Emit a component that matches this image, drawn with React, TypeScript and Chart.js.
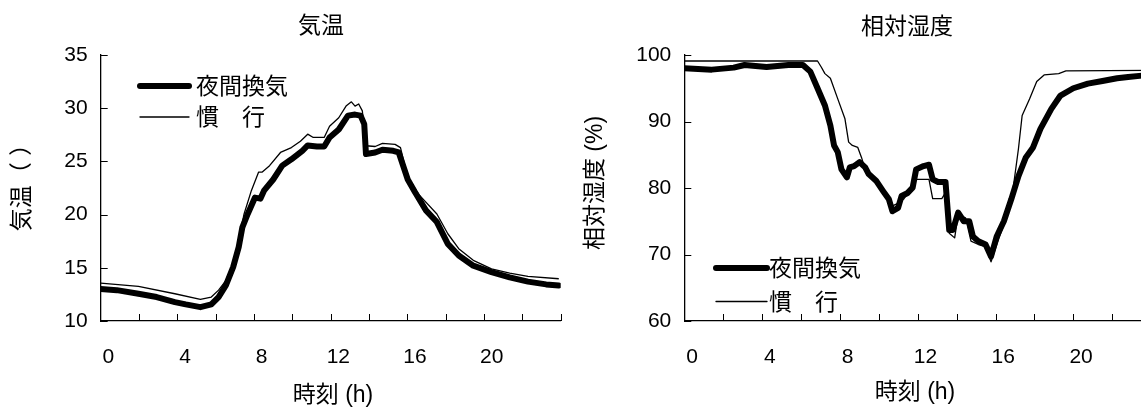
import React, { useEffect, useRef } from 'react';
import { Chart, registerables } from 'chart.js';

Chart.register(...registerables);

const FONT = '"Liberation Sans", Arial, "Noto Sans CJK JP", sans-serif';

// ---- axis ticks ----
const X_MIN = -0.4;
const X_MAX = 23.6;
const X_LABELS = [0, 4, 8, 12, 16, 20];
const X_MARKS = [1.6, 3.6, 5.6, 7.6, 9.6, 11.6, 13.6, 15.6, 17.6, 19.6, 21.6, 23.6];
const TEMP_TICKS = [10, 15, 20, 25, 30, 35];
const RH_TICKS = [60, 70, 80, 90, 100];
const SERIES_NAMES = ['夜間換気', '慣　行'];

// ---- 気温 ----
const TEMP_NIGHT_T = [-0.4, 0.44, 1.57, 2.52, 3.47, 4.04, 4.8, 5.37, 5.75, 6.13, 6.51, 6.8, 6.99, 7.27, 7.65, 7.93, 8.12, 8.6, 9.07, 9.55, 10.12, 10.4, 10.88, 11.26, 11.54, 12.02, 12.5, 12.87, 13.16, 13.35, 13.44, 13.92, 14.3, 14.86, 15.15, 15.62, 16.0, 16.57, 17.14, 17.71, 18.28, 19.04, 19.99, 20.94, 21.89, 22.84, 23.5];
const TEMP_NIGHT = [13.0, 12.9, 12.56, 12.25, 11.78, 11.56, 11.3, 11.56, 12.25, 13.34, 15.06, 16.94, 18.8, 20.06, 21.6, 21.5, 22.25, 23.3, 24.6, 25.2, 26.0, 26.5, 26.4, 26.4, 27.25, 28.0, 29.3, 29.4, 29.3, 28.5, 25.7, 25.84, 26.1, 26.0, 25.84, 23.3, 22.1, 20.4, 19.3, 17.25, 16.16, 15.2, 14.6, 14.1, 13.7, 13.44, 13.34];
const TEMP_CONV_T = [-0.4, 1.57, 3.47, 4.8, 5.37, 5.75, 6.13, 6.51, 6.8, 7.08, 7.46, 7.84, 8.03, 8.41, 8.98, 9.55, 10.02, 10.4, 10.69, 11.26, 11.54, 12.02, 12.4, 12.68, 12.87, 13.06, 13.25, 13.44, 13.92, 14.3, 14.96, 15.24, 15.62, 16.19, 17.14, 17.71, 18.28, 19.04, 19.99, 20.94, 21.89, 23.5];
const TEMP_CONV = [13.56, 13.25, 12.56, 12.03, 12.25, 12.9, 13.8, 15.4, 17.56, 20.06, 22.25, 24.0, 24.0, 24.6, 25.84, 26.3, 26.9, 27.56, 27.25, 27.25, 28.3, 29.1, 30.2, 30.6, 30.2, 30.4, 29.75, 26.47, 26.4, 26.7, 26.6, 26.3, 23.5, 21.9, 20.06, 18.2, 16.8, 15.7, 14.9, 14.5, 14.2, 13.97];

// ---- 相対湿度 ----
const RH_NIGHT_T = [-0.4, 1.01, 2.14, 2.7, 3.83, 4.95, 5.7, 6.08, 6.45, 6.83, 7.11, 7.3, 7.49, 7.68, 7.96, 8.11, 8.33, 8.61, 8.9, 9.08, 9.46, 9.83, 10.12, 10.3, 10.59, 10.77, 11.06, 11.34, 11.52, 11.9, 12.18, 12.37, 12.65, 13.03, 13.22, 13.41, 13.68, 13.97, 14.25, 14.44, 14.72, 15.09, 15.37, 15.66, 16.03, 16.41, 16.78, 17.16, 17.53, 17.91, 18.47, 18.94, 19.6, 20.35, 21.1, 21.85, 22.42, 23.13, 23.5];
const RH_NIGHT = [98.0, 97.8, 98.1, 98.5, 98.2, 98.5, 98.5, 97.5, 95.0, 92.4, 89.4, 86.4, 85.4, 82.8, 81.6, 83.1, 83.3, 83.9, 83.1, 82.1, 81.1, 79.5, 78.3, 76.5, 77.0, 78.8, 79.2, 80.05, 82.8, 83.3, 83.5, 81.3, 80.9, 80.9, 73.7, 73.7, 76.3, 75.0, 75.0, 72.7, 72.0, 71.5, 69.7, 72.7, 75.0, 78.3, 81.8, 84.6, 86.1, 88.9, 91.9, 93.9, 95.0, 95.7, 96.1, 96.5, 96.7, 96.9, 97.0];
const RH_CONV_T = [-0.4, 6.45, 6.64, 6.83, 7.11, 7.49, 7.86, 8.05, 8.24, 8.52, 8.71, 8.9, 9.08, 9.83, 10.3, 10.59, 10.87, 11.34, 11.52, 12.18, 12.37, 12.84, 13.03, 13.22, 13.5, 13.68, 14.06, 14.34, 14.72, 15.09, 15.37, 15.75, 16.13, 16.5, 16.78, 16.97, 17.35, 17.72, 18.1, 18.85, 19.22, 23.5];
const RH_CONV = [99.1, 99.1, 98.2, 97.2, 96.5, 93.4, 90.4, 86.9, 86.4, 86.1, 84.6, 82.8, 82.1, 79.8, 77.3, 77.7, 78.3, 80.3, 81.3, 81.3, 78.4, 78.4, 79.3, 73.2, 72.5, 76.0, 75.5, 72.0, 71.5, 71.2, 68.9, 72.2, 75.3, 79.8, 85.9, 90.9, 93.4, 96.0, 97.0, 97.2, 97.6, 97.7];

const toPoints = (xs: number[], ys: number[]) => xs.map((x, i) => ({ x, y: ys[i] }));

const overlayPlugin = {
  id: 'overlay',
  afterDraw(chart: any, _args: any, o: any) {
    const { ctx, chartArea: ca, scales } = chart;
    ctx.save();
    // inward tick marks
    ctx.strokeStyle = '#000';
    ctx.lineWidth = 1;
    o.xMarks.forEach((v: number) => {
      const px = Math.round(scales.x.getPixelForValue(v)) + 0.5;
      ctx.beginPath();
      ctx.moveTo(px, ca.bottom);
      ctx.lineTo(px, ca.bottom - 7);
      ctx.stroke();
    });
    o.yMarks.forEach((v: number) => {
      const py = Math.round(scales.y.getPixelForValue(v)) + 0.5;
      ctx.beginPath();
      ctx.moveTo(ca.left, py);
      ctx.lineTo(ca.left + 7, py);
      ctx.stroke();
    });
    // texts
    ctx.fillStyle = '#000';
    ctx.textBaseline = 'middle';
    ctx.textAlign = 'center';
    ctx.font = `23px ${FONT}`;
    ctx.fillText(o.title, o.titleX, o.titleY);
    ctx.fillText(o.xTitle, o.xTitleX, o.xTitleY);
    ctx.save();
    ctx.translate(o.yTitleX, o.yTitleY);
    ctx.rotate(-Math.PI / 2);
    ctx.fillText(o.yTitle, 0, 0);
    ctx.restore();
    // legend
    ctx.textAlign = 'left';
    chart.data.datasets.forEach((ds: any, i: number) => {
      const y = o.legendY[i];
      ctx.strokeStyle = ds.borderColor;
      ctx.lineWidth = ds.borderWidth;
      ctx.lineCap = 'round';
      ctx.beginPath();
      ctx.moveTo(o.legendX0, y);
      ctx.lineTo(o.legendX1, y);
      ctx.stroke();
      ctx.fillText(ds.label, o.legendTextX, y + 2);
    });
    ctx.restore();
  },
};

function makeConfig(p: any) {
  const tickFont = { family: FONT, size: 21 };
  return {
    type: 'line',
    data: {
      datasets: [
        {
          label: SERIES_NAMES[0],
          data: p.night,
          borderColor: '#000',
          borderWidth: 6,
          pointRadius: 0,
          borderJoinStyle: 'round',
          borderCapStyle: 'round',
          tension: 0,
          order: 1,
        },
        {
          label: SERIES_NAMES[1],
          data: p.conv,
          borderColor: '#000',
          borderWidth: 1.3,
          pointRadius: 0,
          borderJoinStyle: 'round',
          tension: 0,
          order: 0,
        },
      ],
    },
    options: {
      responsive: false,
      animation: false,
      devicePixelRatio: 1,
      layout: { padding: { top: 55, right: p.padRight, bottom: 0, left: 0 } },
      plugins: {
        legend: { display: false },
        tooltip: { enabled: false },
        title: { display: false },
        overlay: p.overlay,
      },
      scales: {
        x: {
          type: 'linear',
          min: X_MIN,
          max: X_MAX,
          afterBuildTicks: (s: any) => {
            s.ticks = X_LABELS.map((v) => ({ value: v }));
          },
          ticks: {
            color: '#000',
            font: tickFont,
            padding: 24,
            maxRotation: 0,
            autoSkip: false,
            callback: (v: any) => String(v),
          },
          grid: { display: true, drawOnChartArea: false, drawTicks: false },
          border: { display: true, color: '#000', width: 1.3 },
          afterFit: (s: any) => {
            s.height = 87;
          },
        },
        y: {
          type: 'linear',
          min: p.yMin,
          max: p.yMax,
          afterBuildTicks: (s: any) => {
            s.ticks = p.yTicks.map((v: number) => ({ value: v }));
          },
          ticks: {
            color: '#000',
            font: tickFont,
            padding: 13,
            callback: (v: any) => String(v),
          },
          grid: { display: true, drawOnChartArea: false, drawTicks: false },
          border: { display: true, color: '#000', width: 1.3 },
          afterFit: (s: any) => {
            s.width = p.yWidth;
          },
        },
      },
    },
    plugins: [overlayPlugin],
  };
}

function Panel({ left, width, params }: { left: number; width: number; params: any }) {
  const ref = useRef<HTMLCanvasElement | null>(null);
  useEffect(() => {
    if (!ref.current) return;
    const chart = new Chart(ref.current, makeConfig(params) as any);
    return () => chart.destroy();
  }, []);
  return (
    <canvas
      ref={ref}
      width={width}
      height={408}
      style={{ position: 'absolute', left, top: 0, width, height: 408 }}
    />
  );
}

const TEMP_PARAMS = {
  night: toPoints(TEMP_NIGHT_T, TEMP_NIGHT),
  conv: toPoints(TEMP_CONV_T, TEMP_CONV),
  yMin: 10,
  yMax: 35,
  yTicks: TEMP_TICKS,
  yWidth: 100.7,
  padRight: 9.3,
  overlay: {
    xMarks: X_MARKS,
    yMarks: TEMP_TICKS,
    title: '気温',
    titleX: 321,
    titleY: 27,
    xTitle: '時刻 (h)',
    xTitleX: 333,
    xTitleY: 396,
    yTitle: '気温（ ）',
    yTitleX: 23,
    yTitleY: 182,
    legendX0: 140,
    legendX1: 189,
    legendTextX: 196,
    legendY: [86, 117],
  },
};

const RH_PARAMS = {
  night: toPoints(RH_NIGHT_T, RH_NIGHT),
  conv: toPoints(RH_CONV_T, RH_CONV),
  yMin: 60,
  yMax: 100,
  yTicks: RH_TICKS,
  yWidth: 114.3,
  padRight: 18.9,
  overlay: {
    xMarks: X_MARKS,
    yMarks: RH_TICKS,
    title: '相対湿度',
    titleX: 337,
    titleY: 28,
    xTitle: '時刻 (h)',
    xTitleX: 345,
    xTitleY: 393,
    yTitle: '相対湿度 (%)',
    yTitleX: 25.5,
    yTitleY: 183,
    legendX0: 146,
    legendX1: 197,
    legendTextX: 199,
    legendY: [268, 301.5],
  },
};

export default function App() {
  return (
    <div
      style={{
        position: 'fixed',
        left: 0,
        top: 0,
        width: 1141,
        height: 408,
        overflow: 'hidden',
        background: '#fff',
      }}
    >
      <Panel left={0} width={570} params={TEMP_PARAMS} />
      <Panel left={570} width={600} params={RH_PARAMS} />
    </div>
  );
}
